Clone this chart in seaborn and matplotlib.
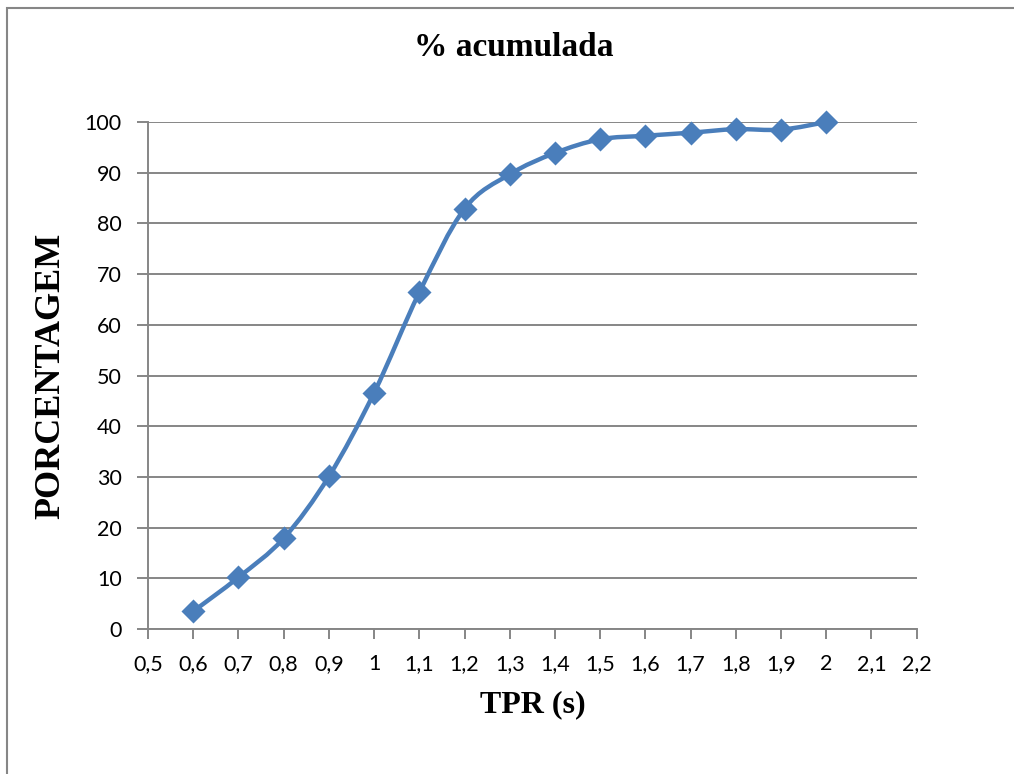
import numpy as np
import pandas as pd
import matplotlib
matplotlib.use("Agg")
import matplotlib.pyplot as plt
from matplotlib.path import Path
from matplotlib.patches import PathPatch, Rectangle
import seaborn as sns

# values
tpr = [0.6, 0.7, 0.8, 0.9, 1.0, 1.1, 1.2, 1.3, 1.4, 1.5, 1.6, 1.7, 1.8, 1.9, 2.0]
pct = [3.5, 10.2, 17.9, 30.1, 46.6, 66.4, 82.9, 89.7, 93.9, 96.6, 97.3, 97.9, 98.6, 98.5, 100.0]

xticks = [0.5, 0.6, 0.7, 0.8, 0.9, 1.0, 1.1, 1.2, 1.3, 1.4, 1.5, 1.6, 1.7, 1.8, 1.9, 2.0, 2.1, 2.2]
xtick_labels = ["0,5", "0,6", "0,7", "0,8", "0,9", "1", "1,1", "1,2", "1,3", "1,4",
                "1,5", "1,6", "1,7", "1,8", "1,9", "2", "2,1", "2,2"]
yticks = [0, 10, 20, 30, 40, 50, 60, 70, 80, 90, 100]

df = pd.DataFrame({"tpr": tpr, "pct": pct})

sns.set_style("white")
plt.rcParams["font.family"] = ["Lato", "DejaVu Sans"]

blue = "#4a7ebb"
grey = "#868686"
serif = ["Liberation Serif", "DejaVu Serif"]

fig = plt.figure(figsize=(10.14, 7.74), dpi=100)
ax = fig.add_axes([0.146, 0.1873, 0.758, 0.655])

# outer chart border like the spreadsheet frame
fig.patches.append(Rectangle((7 / 1014, -0.1), 1.2, 1 - 8 / 774 + 0.1,
                             transform=fig.transFigure, fill=False,
                             edgecolor=grey, linewidth=1.5))


def smooth_path(x, y):
    # spreadsheet-style smoothed line: cubic bezier through the points
    pts = np.column_stack([x, y])
    n = len(pts)
    verts = [pts[0]]
    codes = [Path.MOVETO]
    for i in range(n - 1):
        p0 = pts[i - 1] if i > 0 else pts[i]
        p1 = pts[i]
        p2 = pts[i + 1]
        p3 = pts[i + 2] if i + 2 < n else pts[i + 1]
        c1 = p1 + (p2 - p0) / 6
        c2 = p2 - (p3 - p1) / 6
        verts += [c1, c2, p2]
        codes += [Path.CURVE4] * 3
    return Path(verts, codes)


ax.add_patch(PathPatch(smooth_path(df["tpr"].values, df["pct"].values),
                       facecolor="none", edgecolor=blue, linewidth=3.2,
                       capstyle="round", joinstyle="round", zorder=3,
                       clip_on=False))
sns.scatterplot(data=df, x="tpr", y="pct", marker="D", s=150, color=blue,
                edgecolor=blue, linewidth=0, ax=ax, zorder=4, clip_on=False)

ax.set_xlim(0.5, 2.2)
ax.set_ylim(0, 100)
ax.set_xticks(xticks)
ax.set_xticklabels(xtick_labels)
ax.set_yticks(yticks)

ax.yaxis.grid(True, color=grey, linewidth=1.4)
ax.set_axisbelow(True)
for side in ["top", "right"]:
    ax.spines[side].set_visible(False)
for side in ["left", "bottom"]:
    ax.spines[side].set_color(grey)
    ax.spines[side].set_linewidth(1.4)

ax.tick_params(axis="x", direction="out", length=7, width=1.4, color=grey,
               pad=11, labelsize=15.5, labelcolor="black", bottom=True)
ax.tick_params(axis="y", direction="out", length=8, width=1.4, color=grey,
               pad=11, labelsize=15.5, labelcolor="black", left=True)

fig.text(514 / 1014, 1 - 48 / 774, "% acumulada", family=serif, fontweight="bold",
         fontsize=24, ha="center", va="center", color="black")
ax.set_xlabel("TPR (s)", family=serif, fontweight="bold", fontsize=23,
              labelpad=12, color="black")
ax.set_ylabel("PORCENTAGEM", family=serif, fontweight="bold", fontsize=26,
              labelpad=12, color="black")

fig.savefig("out.png", dpi=100, facecolor="white")
